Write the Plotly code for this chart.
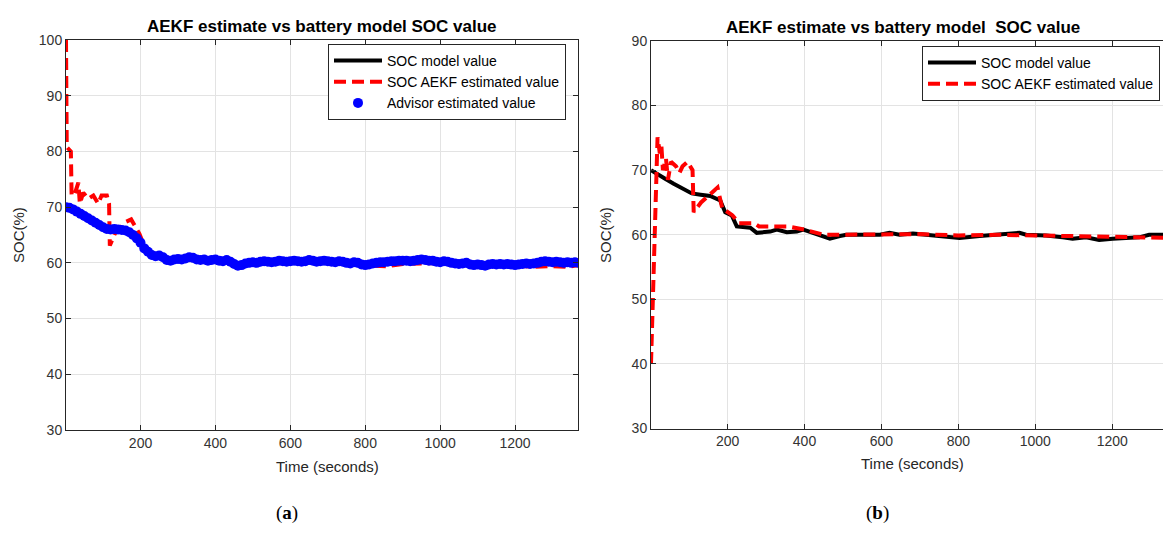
import plotly.graph_objects as go

# ---------------- data (a) ----------------
advisor_a_t = [1] + list(range(10, 1371, 10))
advisor_a_v = [
    70.0, 69.9, 69.6, 69.2, 68.8, 68.4, 68.0, 67.6, 67.2, 66.8,
    66.4, 66.1, 66.0, 66.1, 66.0, 65.9, 65.8, 65.5, 65.0, 64.4,
    63.6, 62.6, 62.0, 61.4, 61.2, 61.3, 61.0, 60.5, 60.4, 60.6,
    60.7, 60.6, 60.8, 61.0, 60.9, 60.6, 60.5, 60.6, 60.4, 60.5,
    60.6, 60.4, 60.3, 60.5, 60.2, 59.8, 59.5, 59.6, 59.9, 60.0,
    60.1, 60.0, 60.2, 60.3, 60.2, 60.1, 60.2, 60.4, 60.3, 60.2,
    60.3, 60.4, 60.3, 60.2, 60.3, 60.5, 60.4, 60.2, 60.3, 60.4,
    60.3, 60.2, 60.1, 60.3, 60.2, 60.0, 59.9, 60.1, 60.0, 59.7,
    59.6, 59.7, 59.9, 60.0, 60.1, 60.1, 60.2, 60.3, 60.3, 60.4,
    60.4, 60.4, 60.3, 60.4, 60.5, 60.6, 60.5, 60.4, 60.4, 60.2,
    60.1, 60.3, 60.2, 60.0, 59.9, 59.8, 59.9, 60.0, 59.7, 59.6,
    59.7, 59.6, 59.5, 59.7, 59.8, 59.7, 59.8, 59.7, 59.8, 59.7,
    59.6, 59.7, 59.8, 59.9, 59.8, 59.9, 60.0, 60.2, 60.3, 60.2,
    60.1, 60.2, 60.1, 60.0, 60.1, 60.0, 60.1, 60.0,
]
model_a_t = list(advisor_a_t)
model_a_v = list(advisor_a_v)

aekf_a_t = [1, 3, 14, 16, 25, 34, 38, 47, 60, 74,
            87, 96, 110, 116, 118, 131, 162, 175, 188, 197,
            210, 220, 240, 260, 280, 320, 350, 400, 450, 460,
            500, 600, 700, 760, 800, 860, 900, 1000, 1060, 1100,
            1200, 1250, 1300, 1340, 1370]
aekf_a_v = [100.0, 80.8, 80.0, 72.0, 72.5, 74.4, 70.6, 72.6, 71.5, 72.1,
            70.6, 72.1, 72.1, 70.6, 63.1, 65.2, 67.4, 67.8, 66.3, 65.2,
            63.0, 62.0, 61.5, 61.2, 60.8, 60.8, 60.5, 60.5, 60.0, 59.6,
            60.0, 60.2, 60.2, 59.8, 59.5, 59.4, 59.8, 60.0, 59.7, 59.5,
            59.5, 59.3, 59.4, 59.3, 59.6]

# ---------------- data (b) ----------------
model_b_t = [1, 20, 40, 60, 80, 107, 130, 155, 181, 194,
             211, 224, 259, 276, 311, 328, 354, 380, 397, 423,
             449, 466, 492, 509, 552, 596, 621, 647, 682, 725,
             768, 803, 855, 898, 941, 959, 976, 1028, 1071, 1097,
             1132, 1166, 1201, 1244, 1270, 1296, 1322, 1370]
model_b_v = [70.0, 69.4, 68.6, 67.9, 67.2, 66.4, 66.2, 66.0, 65.3, 63.5,
             63.0, 61.3, 61.1, 60.3, 60.5, 60.8, 60.4, 60.5, 60.8, 60.3,
             59.8, 59.4, 59.8, 60.0, 60.0, 60.0, 60.3, 60.0, 60.2, 60.0,
             59.8, 59.5, 59.8, 60.0, 60.2, 60.3, 60.0, 59.9, 59.6, 59.4,
             59.6, 59.2, 59.4, 59.6, 59.6, 60.0, 60.0, 60.0]

aekf_b_t = [1, 18, 24, 28, 32, 40, 45, 53, 66, 75,
            83, 96, 109, 112, 131, 174, 187, 196, 213, 230,
            269, 282, 356, 399, 450, 500, 600, 700, 800, 900,
            1000, 1100, 1200, 1300, 1370]
aekf_b_v = [40.0, 75.1, 72.6, 73.8, 70.0, 71.8, 68.5, 71.3, 70.6, 69.6,
            70.6, 71.3, 70.0, 63.5, 65.0, 67.3, 63.9, 63.7, 63.0, 61.8,
            61.8, 61.3, 61.3, 60.8, 60.0, 60.0, 60.0, 60.1, 59.9, 60.0,
            59.9, 59.8, 59.6, 59.5, 59.5]

x_ticks = [200, 400, 600, 800, 1000, 1200]
y_ticks_a = [30, 40, 50, 60, 70, 80, 90, 100]
y_ticks_b = [30, 40, 50, 60, 70, 80, 90]

title_a = "AEKF estimate vs battery model SOC value"
title_b = "AEKF estimate vs battery model  SOC value"
names = ["SOC model value", "SOC AEKF estimated value", "Advisor estimated value"]

W, H = 1163, 536
FONT = "Liberation Sans, Arial, sans-serif"
AX = "#262626"
GRID = "#e3e3e3"
DASH = "12px,6px"

fig = go.Figure()

# (a)
fig.add_trace(go.Scatter(x=model_a_t, y=model_a_v, mode="lines", name=names[0],
                         line=dict(color="black", width=4), xaxis="x", yaxis="y", legend="legend"))
fig.add_trace(go.Scatter(x=aekf_a_t, y=aekf_a_v, mode="lines", name=names[1],
                         line=dict(color="#ff0000", width=4, dash=DASH), xaxis="x", yaxis="y", legend="legend"))
fig.add_trace(go.Scatter(x=advisor_a_t, y=advisor_a_v, mode="markers", name=names[2],
                         marker=dict(color="#0000ff", size=10, line=dict(width=0)),
                         xaxis="x", yaxis="y", legend="legend"))
# (b)
fig.add_trace(go.Scatter(x=model_b_t, y=model_b_v, mode="lines", name=names[0],
                         line=dict(color="black", width=4), xaxis="x2", yaxis="y2", legend="legend2"))
fig.add_trace(go.Scatter(x=aekf_b_t, y=aekf_b_v, mode="lines", name=names[1],
                         line=dict(color="#ff0000", width=4, dash=DASH), xaxis="x2", yaxis="y2", legend="legend2"))


def xa(domain, rng, anchor):
    return dict(domain=domain, range=rng, anchor=anchor, tickvals=x_ticks,
                showgrid=True, gridcolor=GRID, gridwidth=1, zeroline=False,
                showline=True, linecolor=AX, linewidth=1, mirror="ticks",
                ticks="inside", ticklen=5, tickcolor=AX,
                tickfont=dict(family=FONT, size=14, color="#333333"))


def ya(domain, rng, anchor, ticks, mirror):
    return dict(domain=domain, range=rng, anchor=anchor, tickvals=ticks,
                showgrid=True, gridcolor=GRID, gridwidth=1, zeroline=False,
                showline=True, linecolor=AX, linewidth=1, mirror=mirror,
                ticks="inside", ticklen=5, tickcolor=AX,
                tickfont=dict(family=FONT, size=14, color="#333333"))


def px_x(p):
    return p / W


def px_y(p):
    return 1 - p / H


legend_style = dict(xanchor="left", yanchor="top", bgcolor="white", bordercolor=AX,
                    borderwidth=1, font=dict(family=FONT, size=14, color="black"),
                    tracegroupgap=0, itemwidth=48)

fig.update_layout(
    width=W, height=H, margin=dict(l=0, r=0, t=0, b=0),
    paper_bgcolor="white", plot_bgcolor="white",
    xaxis=xa([px_x(66), px_x(578)], [1, 1368], "y"),
    yaxis=ya([px_y(435), px_y(33)], [30, 100], "x", y_ticks_a, "ticks"),
    xaxis2=xa([px_x(651), 1.0], [1, 1332], "y2"),
    yaxis2=ya([px_y(433.5), px_y(34)], [30, 90], "x2", y_ticks_b, False),
    legend=dict(x=px_x(328), y=px_y(37), **legend_style),
    legend2=dict(x=px_x(922), y=px_y(39), **legend_style),
    showlegend=True,
)

ann = []


def add_text(text, x, y, size, angle=0, family=FONT, color="black"):
    ann.append(dict(text=text, x=px_x(x), y=px_y(y), xref="paper", yref="paper",
                    showarrow=False, xanchor="center", yanchor="middle", textangle=angle,
                    font=dict(family=family, size=size, color=color)))


add_text("<b>" + title_a + "</b>", 322, 19, 17)
add_text("<b>" + title_b + "</b>", 903, 20, 17)
add_text("SOC(%)", 18, 234, 15, angle=-90, color="#262626")
add_text("SOC(%)", 605, 234, 15, angle=-90, color="#262626")
add_text("Time (seconds)", 327, 473, 15, color="#262626")
add_text("Time (seconds)", 912, 469, 15, color="#262626")
add_text("(<b>a</b>)", 287, 521, 19, family="Liberation Serif, Times New Roman, serif")
add_text("(<b>b</b>)", 877, 521, 19, family="Liberation Serif, Times New Roman, serif")
fig.update_layout(annotations=ann)

fig.write_html("out.html")
